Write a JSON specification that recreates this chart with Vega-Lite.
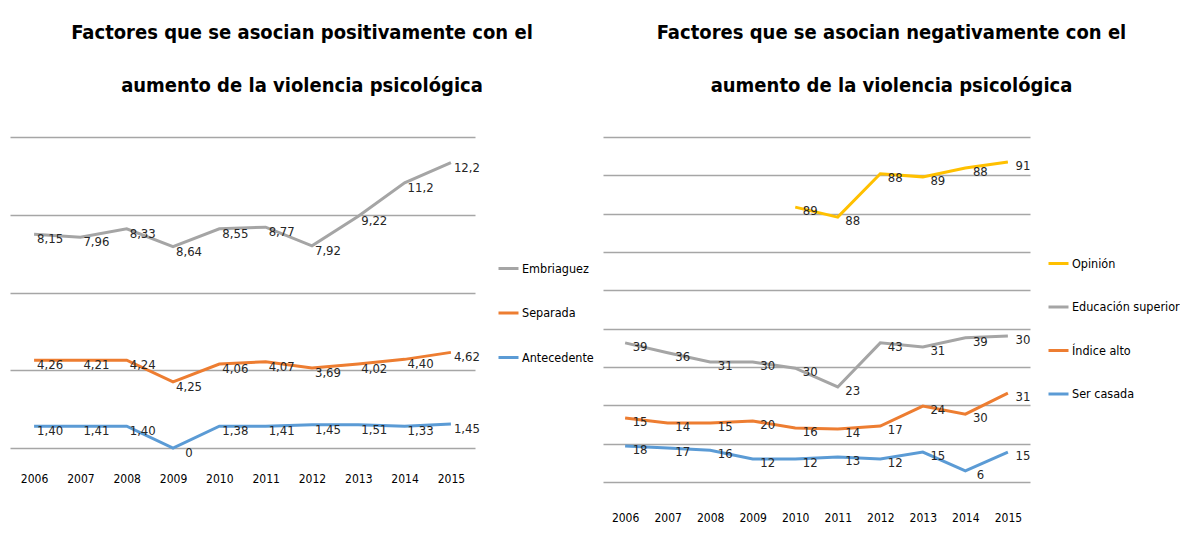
{
  "$schema": "https://vega.github.io/schema/vega-lite/v6.json",
  "background": "white",
  "padding": {"left": 10, "top": 23, "right": 0, "bottom": 0},
  "autosize": {"type": "pad"},
  "spacing": 9,
  "config": {
    "view": {"stroke": null},
    "font": "DejaVu Sans Condensed",
    "title": {"font": "DejaVu Sans Condensed", "fontWeight": "bold", "fontSize": 20, "lineHeight": 53, "color": "#000000", "anchor": "middle", "frame": "bounds", "offset": 41},
    "axis": {"labelFont": "DejaVu Sans Condensed", "labelFontSize": 12, "labelColor": "#000000"},
    "legend": {"labelFont": "DejaVu Sans Condensed", "labelFontSize": 12.5, "labelColor": "#000000"}
  },
  "datasets": {
    "positivos": [
      {"anio": "2006", "serie": "Embriaguez", "posicion": 2.75, "etiqueta": "8,15"},
      {"anio": "2007", "serie": "Embriaguez", "posicion": 2.71, "etiqueta": "7,96"},
      {"anio": "2008", "serie": "Embriaguez", "posicion": 2.82, "etiqueta": "8,33"},
      {"anio": "2009", "serie": "Embriaguez", "posicion": 2.59, "etiqueta": "8,64"},
      {"anio": "2010", "serie": "Embriaguez", "posicion": 2.82, "etiqueta": "8,55"},
      {"anio": "2011", "serie": "Embriaguez", "posicion": 2.84, "etiqueta": "8,77"},
      {"anio": "2012", "serie": "Embriaguez", "posicion": 2.6, "etiqueta": "7,92"},
      {"anio": "2013", "serie": "Embriaguez", "posicion": 2.98, "etiqueta": "9,22"},
      {"anio": "2014", "serie": "Embriaguez", "posicion": 3.41, "etiqueta": "11,2"},
      {"anio": "2015", "serie": "Embriaguez", "posicion": 3.67, "etiqueta": "12,2"},
      {"anio": "2006", "serie": "Separada", "posicion": 1.13, "etiqueta": "4,26"},
      {"anio": "2007", "serie": "Separada", "posicion": 1.13, "etiqueta": "4,21"},
      {"anio": "2008", "serie": "Separada", "posicion": 1.13, "etiqueta": "4,24"},
      {"anio": "2009", "serie": "Separada", "posicion": 0.85, "etiqueta": "4,25"},
      {"anio": "2010", "serie": "Separada", "posicion": 1.08, "etiqueta": "4,06"},
      {"anio": "2011", "serie": "Separada", "posicion": 1.11, "etiqueta": "4,07"},
      {"anio": "2012", "serie": "Separada", "posicion": 1.03, "etiqueta": "3,69"},
      {"anio": "2013", "serie": "Separada", "posicion": 1.08, "etiqueta": "4,02"},
      {"anio": "2014", "serie": "Separada", "posicion": 1.14, "etiqueta": "4,40"},
      {"anio": "2015", "serie": "Separada", "posicion": 1.23, "etiqueta": "4,62"},
      {"anio": "2006", "serie": "Antecedente", "posicion": 0.28, "etiqueta": "1,40"},
      {"anio": "2007", "serie": "Antecedente", "posicion": 0.28, "etiqueta": "1,41"},
      {"anio": "2008", "serie": "Antecedente", "posicion": 0.28, "etiqueta": "1,40"},
      {"anio": "2009", "serie": "Antecedente", "posicion": 0.0, "etiqueta": "0"},
      {"anio": "2010", "serie": "Antecedente", "posicion": 0.28, "etiqueta": "1,38"},
      {"anio": "2011", "serie": "Antecedente", "posicion": 0.28, "etiqueta": "1,41"},
      {"anio": "2012", "serie": "Antecedente", "posicion": 0.3, "etiqueta": "1,45"},
      {"anio": "2013", "serie": "Antecedente", "posicion": 0.3, "etiqueta": "1,51"},
      {"anio": "2014", "serie": "Antecedente", "posicion": 0.28, "etiqueta": "1,33"},
      {"anio": "2015", "serie": "Antecedente", "posicion": 0.31, "etiqueta": "1,45"}
    ],
    "negativos": [
      {"anio": "2010", "serie": "Opinión", "posicion": 7.17, "etiqueta": "89"},
      {"anio": "2011", "serie": "Opinión", "posicion": 6.91, "etiqueta": "88"},
      {"anio": "2012", "serie": "Opinión", "posicion": 8.04, "etiqueta": "88"},
      {"anio": "2013", "serie": "Opinión", "posicion": 7.96, "etiqueta": "89"},
      {"anio": "2014", "serie": "Opinión", "posicion": 8.19, "etiqueta": "88"},
      {"anio": "2015", "serie": "Opinión", "posicion": 8.35, "etiqueta": "91"},
      {"anio": "2006", "serie": "Educación superior", "posicion": 3.63, "etiqueta": "39"},
      {"anio": "2007", "serie": "Educación superior", "posicion": 3.37, "etiqueta": "36"},
      {"anio": "2008", "serie": "Educación superior", "posicion": 3.13, "etiqueta": "31"},
      {"anio": "2009", "serie": "Educación superior", "posicion": 3.13, "etiqueta": "30"},
      {"anio": "2010", "serie": "Educación superior", "posicion": 2.97, "etiqueta": "30"},
      {"anio": "2011", "serie": "Educación superior", "posicion": 2.48, "etiqueta": "23"},
      {"anio": "2012", "serie": "Educación superior", "posicion": 3.63, "etiqueta": "43"},
      {"anio": "2013", "serie": "Educación superior", "posicion": 3.52, "etiqueta": "31"},
      {"anio": "2014", "serie": "Educación superior", "posicion": 3.76, "etiqueta": "39"},
      {"anio": "2015", "serie": "Educación superior", "posicion": 3.81, "etiqueta": "30"},
      {"anio": "2006", "serie": "Índice alto", "posicion": 1.67, "etiqueta": "15"},
      {"anio": "2007", "serie": "Índice alto", "posicion": 1.54, "etiqueta": "14"},
      {"anio": "2008", "serie": "Índice alto", "posicion": 1.54, "etiqueta": "15"},
      {"anio": "2009", "serie": "Índice alto", "posicion": 1.59, "etiqueta": "20"},
      {"anio": "2010", "serie": "Índice alto", "posicion": 1.41, "etiqueta": "16"},
      {"anio": "2011", "serie": "Índice alto", "posicion": 1.38, "etiqueta": "14"},
      {"anio": "2012", "serie": "Índice alto", "posicion": 1.46, "etiqueta": "17"},
      {"anio": "2013", "serie": "Índice alto", "posicion": 1.98, "etiqueta": "24"},
      {"anio": "2014", "serie": "Índice alto", "posicion": 1.77, "etiqueta": "30"},
      {"anio": "2015", "serie": "Índice alto", "posicion": 2.32, "etiqueta": "31"},
      {"anio": "2006", "serie": "Ser casada", "posicion": 0.94, "etiqueta": "18"},
      {"anio": "2007", "serie": "Ser casada", "posicion": 0.89, "etiqueta": "17"},
      {"anio": "2008", "serie": "Ser casada", "posicion": 0.83, "etiqueta": "16"},
      {"anio": "2009", "serie": "Ser casada", "posicion": 0.6, "etiqueta": "12"},
      {"anio": "2010", "serie": "Ser casada", "posicion": 0.6, "etiqueta": "12"},
      {"anio": "2011", "serie": "Ser casada", "posicion": 0.65, "etiqueta": "13"},
      {"anio": "2012", "serie": "Ser casada", "posicion": 0.6, "etiqueta": "12"},
      {"anio": "2013", "serie": "Ser casada", "posicion": 0.78, "etiqueta": "15"},
      {"anio": "2014", "serie": "Ser casada", "posicion": 0.29, "etiqueta": "6"},
      {"anio": "2015", "serie": "Ser casada", "posicion": 0.78, "etiqueta": "15"}
    ]
  },
  "hconcat": [
    {
      "title": {"text": ["Factores que se asocian positivamente con el", "aumento de la violencia psicológica"]},
      "width": 465,
      "height": 311,
      "data": {"name": "positivos"},
      "encoding": {
        "x": {"field": "anio", "type": "ordinal", "scale": {"type": "point", "padding": 0.52},
              "axis": {"title": null, "labelAngle": 0, "domain": false, "ticks": false, "labelPadding": 25, "grid": false}},
        "y": {"field": "posicion", "type": "quantitative", "scale": {"domain": [0, 4], "nice": false},
              "axis": {"title": null, "labels": false, "ticks": false, "domain": false, "values": [0, 1, 2, 3, 4], "grid": true, "gridColor": "#A6A6A6", "gridWidth": 1.5}}
      },
      "layer": [
        {
          "mark": {"type": "line", "strokeWidth": 3, "interpolate": "linear"},
          "encoding": {
            "color": {"field": "serie", "type": "nominal",
                      "scale": {"domain": ["Embriaguez", "Separada", "Antecedente"], "range": ["#A5A5A5", "#ED7D31", "#5B9BD5"]},
                      "legend": {"title": null, "orient": "none", "legendX": 487, "legendY": 120, "symbolType": "stroke", "symbolSize": 400, "symbolStrokeWidth": 3, "rowPadding": 26.5, "labelOffset": 2}}
          }
        },
        {
          "mark": {"type": "text", "dx": 16, "dy": 5, "fontSize": 13, "color": "#262626", "font": "DejaVu Sans Condensed"},
          "encoding": {"text": {"field": "etiqueta", "type": "nominal"}}
        }
      ]
    },
    {
      "title": {"text": ["Factores que se asocian negativamente con el", "aumento de la violencia psicológica"]},
      "width": 427,
      "height": 345,
      "data": {"name": "negativos"},
      "encoding": {
        "x": {"field": "anio", "type": "ordinal", "scale": {"type": "point", "padding": 0.52},
              "axis": {"title": null, "labelAngle": 0, "domain": false, "ticks": false, "labelPadding": 30, "grid": false}},
        "y": {"field": "posicion", "type": "quantitative", "scale": {"domain": [0, 9], "nice": false},
              "axis": {"title": null, "labels": false, "ticks": false, "domain": false, "values": [0, 1, 2, 3, 4, 5, 6, 7, 8, 9], "grid": true, "gridColor": "#A6A6A6", "gridWidth": 1.5}}
      },
      "layer": [
        {
          "mark": {"type": "line", "strokeWidth": 3, "interpolate": "linear"},
          "encoding": {
            "color": {"field": "serie", "type": "nominal",
                      "scale": {"domain": ["Opinión", "Educación superior", "Índice alto", "Ser casada"], "range": ["#FFC000", "#A5A5A5", "#ED7D31", "#5B9BD5"]},
                      "legend": {"title": null, "orient": "none", "legendX": 444, "legendY": 115, "symbolType": "stroke", "symbolSize": 400, "symbolStrokeWidth": 3, "rowPadding": 25.5, "labelOffset": 2}}
          }
        },
        {
          "mark": {"type": "text", "dx": 15, "dy": 4, "fontSize": 13, "color": "#262626", "font": "DejaVu Sans Condensed"},
          "encoding": {"text": {"field": "etiqueta", "type": "nominal"}}
        }
      ]
    }
  ],
  "resolve": {"scale": {"color": "independent", "x": "independent", "y": "independent"}, "legend": {"color": "independent"}}
}
